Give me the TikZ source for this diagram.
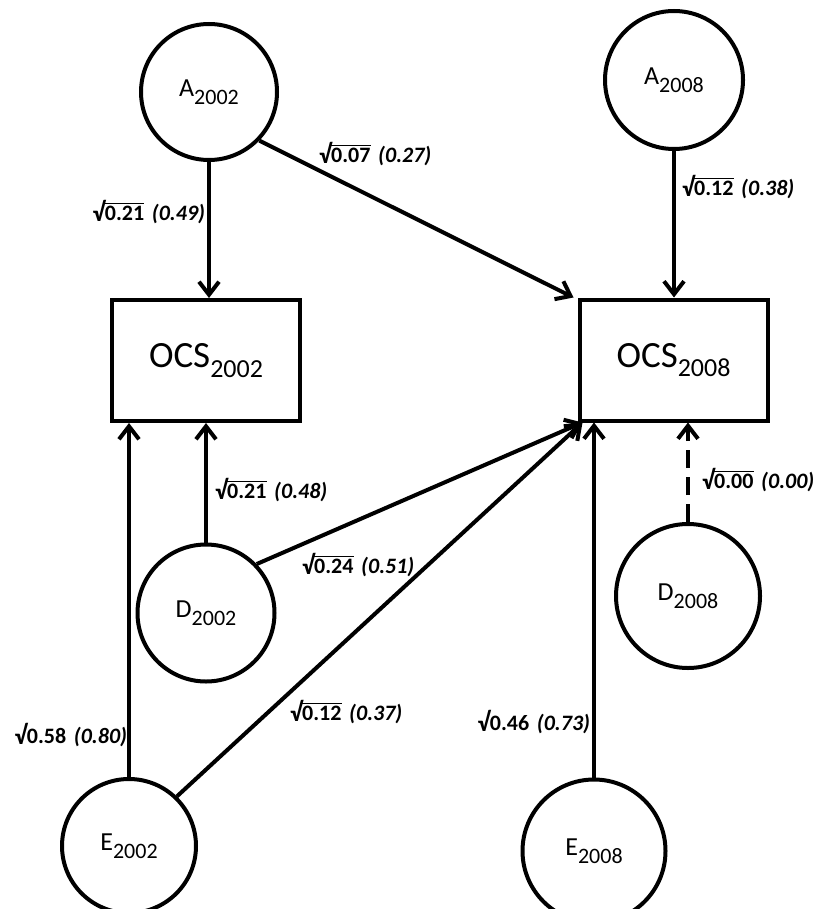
\documentclass[tikz,border=0pt]{standalone}
\usepackage{fontspec}
\setmainfont{Carlito}
\usetikzlibrary{arrows.meta}
\newcommand\rad{\raisebox{-0.06em}{\scalebox{1.15}[1.2]{√}}}
\newcommand\sqv[1]{\rad\kern-0.4pt\setbox0\hbox{#1}\rlap{\rule[0.72em]{\wd0}{1.3pt}}\box0}
\newcommand\sqn[1]{\rad\kern-0.4pt#1}
\newcommand\ita[1]{\hspace{0.35em}{\itshape(#1)}}
\newcommand\csub[2]{#1\raisebox{-0.32em}{\fontsize{22}{22}\selectfont #2}}
\newcommand\bsub[2]{#1\raisebox{-0.25em}{\fontsize{26}{26}\selectfont #2}}
\begin{document}
\begin{tikzpicture}[x=1pt,y=-1pt,line width=4pt,
  latent/.style={circle,draw,inner sep=0pt,font=\fontsize{26}{26}\selectfont},
  obs/.style={rectangle,draw,inner sep=0pt,minimum width=188pt,minimum height=121pt,font=\fontsize{37}{37}\selectfont},
  elab/.style={inner sep=0pt,font=\bfseries\fontsize{22}{22}\selectfont},
  arr/.style={-{Straight Barb[length=13pt,width=20pt]}},
  dsh/.style={dash pattern=on 18pt off 9pt}]
\useasboundingbox (0,0) rectangle (815,909);
% observed
\node[obs] (ocs02) at (206,360.5) {\bsub{OCS}{2002}};
\node[obs] (ocs08) at (673.5,360) {\bsub{OCS}{2008}};
% latent
\node[latent,minimum size=136pt] (A02) at (209,92) {\csub{A}{2002}};
\node[latent,minimum size=138pt] (A08) at (674,80) {\csub{A}{2008}};
\node[latent,minimum size=137pt] (D02) at (206,613) {\csub{D}{2002}};
\node[latent,minimum size=144pt] (D08) at (688,596) {\csub{D}{2008}};
\node[latent,minimum size=134pt] (E02) at (129,846) {\csub{E}{2002}};
\node[latent,minimum size=143pt] (E08) at (594,851) {\csub{E}{2008}};
% connectors
\draw[arr] (A02.south) -- (A02.south |- ocs02.north);
\draw[arr] (A08.south) -- (A08.south |- ocs08.north);
\draw[arr] (A02.-44) -- ([xshift=-4pt]ocs08.north west);
\draw[arr] (D02.north) -- (D02.north |- ocs02.south);
\draw[arr] (E02.north) -- (E02.north |- ocs02.south);
\draw[arr] (D02.44) -- ([xshift=5pt]ocs08.south west);
\draw[arr] (E02.46) -- ([xshift=5pt]ocs08.south west);
\draw[arr] (E08.north) -- (E08.north |- ocs08.south);
\draw[arr,dsh] (D08.north) -- (D08.north |- ocs08.south);
% labels
\node[elab,anchor=east] (l1) at (207,212) {\sqv{0.21}\ita{0.49}};
\node[elab,anchor=west] (l2) at (317,154) {\sqv{0.07}\ita{0.27}};
\node[elab,anchor=west] (l3) at (680,187) {\sqv{0.12}\ita{0.38}};
\node[elab,anchor=west] (l4) at (213,490) {\sqv{0.21}\ita{0.48}};
\node[elab,anchor=west] (l5) at (300,565) {\sqv{0.24}\ita{0.51}};
\node[elab,anchor=west] (l6) at (700,480) {\sqv{0.00}\ita{0.00}};
\node[elab,anchor=west] (l7) at (288,712) {\sqv{0.12}\ita{0.37}};
\node[elab,anchor=east] (l8) at (129,735) {\sqn{0.58}\ita{0.80}};
\node[elab,anchor=east] (l9) at (592,722) {\sqn{0.46}\ita{0.73}};
\end{tikzpicture}
\end{document}
